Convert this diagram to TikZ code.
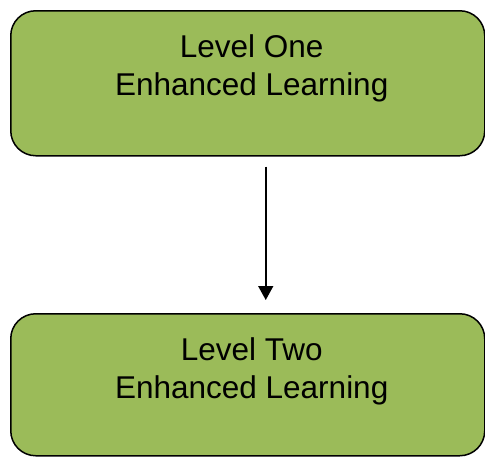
\documentclass[tikz,border=0pt]{standalone}
\usepackage{fontspec}
\setmainfont{Liberation Sans}
\usetikzlibrary{arrows.meta}
\definecolor{boxgreen}{HTML}{9BBB59}
\tikzset{
  greenbox/.style={draw=black, line width=1.5pt, fill=boxgreen, rounded corners=25pt,
    minimum width=474pt, inner sep=0pt, anchor=north west},
  boxtext/.style={align=center, inner sep=0pt, font=\fontsize{31.5}{38}\selectfont},
  conn/.style={line width=1.5pt, -{Triangle[width=15pt,length=14pt]}}
}
\begin{document}
\begin{tikzpicture}[x=1pt,y=1pt]
\useasboundingbox (0,0) rectangle (485,-456);
\node[greenbox, minimum height=145pt] (top) at (10,-10) {};
\node[greenbox, minimum height=142pt] (bot) at (10,-313) {};
\node[boxtext] (toptext) at ([xshift=4pt,yshift=-58pt]top.north) {Level One\\Enhanced Learning};
\node[boxtext] (bottext) at ([xshift=4pt,yshift=-58pt]bot.north) {Level Two\\Enhanced Learning};
\draw[conn] ([xshift=18pt,yshift=-10pt]top.south) -- ([xshift=18pt,yshift=13pt]bot.north);
\end{tikzpicture}
\end{document}
